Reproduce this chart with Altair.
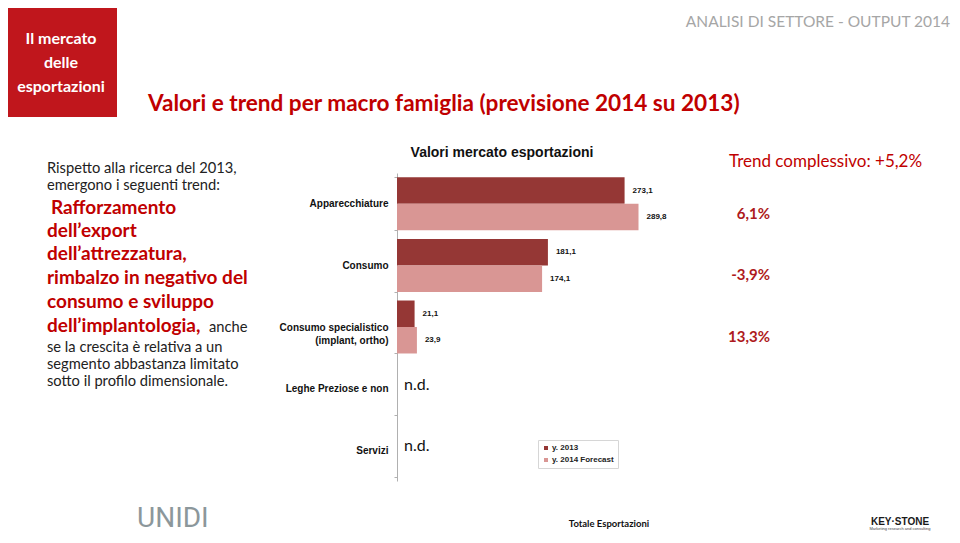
import altair as alt
import pandas as pd

# ---------------- data ----------------
categories = ["Apparecchiature", "Consumo", "Consumo specialistico (implant, ortho)",
              "Leghe Preziose e non", "Servizi"]
series = ["y. 2013", "y. 2014 Forecast"]
values_2013 = [273.1, 181.1, 21.1, None, None]
values_2014 = [289.8, 174.1, 23.9, None, None]
trend_labels = ["6,1%", "-3,9%", "13,3%", None, None]
total_trend = "Trend complessivo: +5,2%"
colors = ["#953735", "#D99694"]

rows = []
for i, c in enumerate(categories):
    rows.append({"categoria": c, "anno": series[0], "valore": values_2013[i]})
    rows.append({"categoria": c, "anno": series[1], "valore": values_2014[i]})
df = pd.DataFrame(rows)
df_trend = pd.DataFrame({"categoria": categories, "trend": trend_labels})
dummy = pd.DataFrame({"k": [0]})

# ---------------- layout helpers (page pixel -> plot pixel) ----------------
OX, OY = 397, 173
W, H = 250, 308


def X(px):
    return px - OX


def Y(py):
    return py - OY


ARIAL = "Liberation Sans"
CAL = "Lato"
RED = "#C00000"

y_enc = alt.Y(
    "categoria:N", sort=categories,
    scale=alt.Scale(paddingInner=0.14, paddingOuter=0.07),
    axis=alt.Axis(
        title=None, labelFont=ARIAL, labelFontWeight="bold", labelFontSize=10,
        labelColor="#111", labelPadding=6, tickBand="extent", tickSize=3,
        tickColor="#b0b0b0", domainColor="#b0b0b0", labelLineHeight=13,
        labelExpr="datum.label == 'Consumo specialistico (implant, ortho)' ? "
                  "['Consumo specialistico', '(implant, ortho)'] : datum.label",
    ),
)
x_enc = alt.X("valore:Q", scale=alt.Scale(domain=[0, 300]), axis=None)

base = alt.Chart(df)

bars = base.mark_bar().transform_filter("isValid(datum.valore)").encode(
    y=y_enc,
    yOffset=alt.YOffset("anno:N", sort=series),
    x=x_enc,
    color=alt.Color(
        "anno:N", sort=series, scale=alt.Scale(domain=series, range=colors),
        legend=alt.Legend(
            title=None, orient="none", legendX=141, legendY=267, direction="vertical",
            strokeColor="#d6d6d6", padding=4, symbolType="square", symbolSize=16,
            symbolStrokeWidth=0, labelFont=ARIAL, labelFontWeight="bold", labelFontSize=8,
            labelColor="#222", rowPadding=4, labelOffset=2,
        ),
    ),
)

value_labels = base.mark_text(
    align="left", baseline="middle", dx=8, font=ARIAL, fontWeight="bold",
    fontSize=8, color="#111",
).transform_filter("isValid(datum.valore)").transform_calculate(
    lab="replace(format(datum.valore, '.1f'), '.', ',')"
).encode(
    y=y_enc, yOffset=alt.YOffset("anno:N", sort=series), x=x_enc, text="lab:N",
)

nd_labels = base.mark_text(
    align="left", baseline="middle", dy=-4, font=CAL, fontSize=16, color="#111",
    text="n.d.",
).transform_filter(
    "!isValid(datum.valore) && datum.anno == 'y. 2013'"
).encode(y=y_enc, x=alt.value(7))

trend_text = alt.Chart(df_trend).mark_text(
    align="right", baseline="middle", dy=10, font=CAL, fontSize=15,
    fontWeight="bold", color="#AE1A20",
).transform_filter("isValid(datum.trend)").encode(
    y=y_enc, x=alt.value(X(770)), text="trend:N"
)


def txt(s, px, py, size, color="#222", weight="normal", font=CAL, align="left",
        baseline="alphabetic"):
    return alt.Chart(dummy).mark_text(
        text=s, font=font, fontSize=size, color=color, fontWeight=weight,
        align=align, baseline=baseline,
    ).encode(x=alt.value(X(px)), y=alt.value(Y(py)))


layers = []

# red header box
layers.append(alt.Chart(dummy).mark_rect(color="#C0161C").encode(
    x=alt.value(X(0)), x2=alt.value(X(117)), y=alt.value(Y(0)), y2=alt.value(Y(117))))
layers.append(txt("Il mercato", 61, 39, 16, "white", "bold", align="center", baseline="middle"))
layers.append(txt("delle", 61, 63, 16, "white", "bold", align="center", baseline="middle"))
layers.append(txt("esportazioni", 61, 87, 16, "white", "bold", align="center", baseline="middle"))

# header & title
layers.append(txt("ANALISI DI SETTORE  - OUTPUT 2014", 950, 22, 15.5, "#A6A6A6",
                  align="right", baseline="middle"))
layers.append(txt("Valori e trend per macro famiglia (previsione 2014 su 2013)", 148, 104, 22.6,
                  RED, "bold", baseline="middle"))

# left commentary
layers.append(txt("Rispetto alla ricerca del 2013,", 47, 173, 14.7))
layers.append(txt("emergono i seguenti trend:", 47, 190, 14.7))
red_lines = [("Rafforzamento", 51, 214), ("dell\u2019export", 47, 237),
             ("dell\u2019attrezzatura,", 47, 260), ("rimbalzo in negativo del", 47, 284),
             ("consumo e sviluppo", 47, 308), ("dell\u2019implantologia,", 47, 332)]
for s, xx, yy in red_lines:
    layers.append(txt(s, xx, yy, 19, RED, "bold"))
layers.append(txt("anche", 209, 332, 14.7))
layers.append(txt("se la crescita \u00e8 relativa a un", 47, 352, 14.7))
layers.append(txt("segmento abbastanza limitato", 47, 369, 14.7))
layers.append(txt("sotto il profilo dimensionale.", 47, 386, 14.7))

# chart title
layers.append(txt("Valori mercato esportazioni", 502, 153, 14, "#111", "bold", font=ARIAL,
                  align="center", baseline="middle"))

# right side
layers.append(txt(total_trend, 729, 162, 17, RED, align="left", baseline="middle"))

# footer
layers.append(txt("Totale Esportazioni", 609, 524, 9.5, "#111", "bold", align="center",
                  baseline="middle"))
layers.append(txt("UNIDI", 137, 527, 28, "#8C979B", font="Roboto"))
layers.append(txt("KEY\u00b7STONE", 900, 522, 10, "#1a1a1a", "bold", font=ARIAL,
                  align="center", baseline="middle"))
layers.append(txt("Marketing research and consulting", 900, 529, 4, "#444", font=ARIAL,
                  align="center", baseline="middle"))

chart = alt.layer(
    *layers, bars, value_labels, nd_labels, trend_text
).properties(
    width=W, height=H,
    autosize=alt.AutoSizeParams(type="none"),
    padding={"left": OX - 8, "top": OY - 8, "right": 944 - (OX - 8) - W,
             "bottom": 527 - (OY - 8) - H},
    background="white",
).configure_view(stroke=None)

chart.save("out.html", embed_options={"renderer": "svg", "actions": False})
